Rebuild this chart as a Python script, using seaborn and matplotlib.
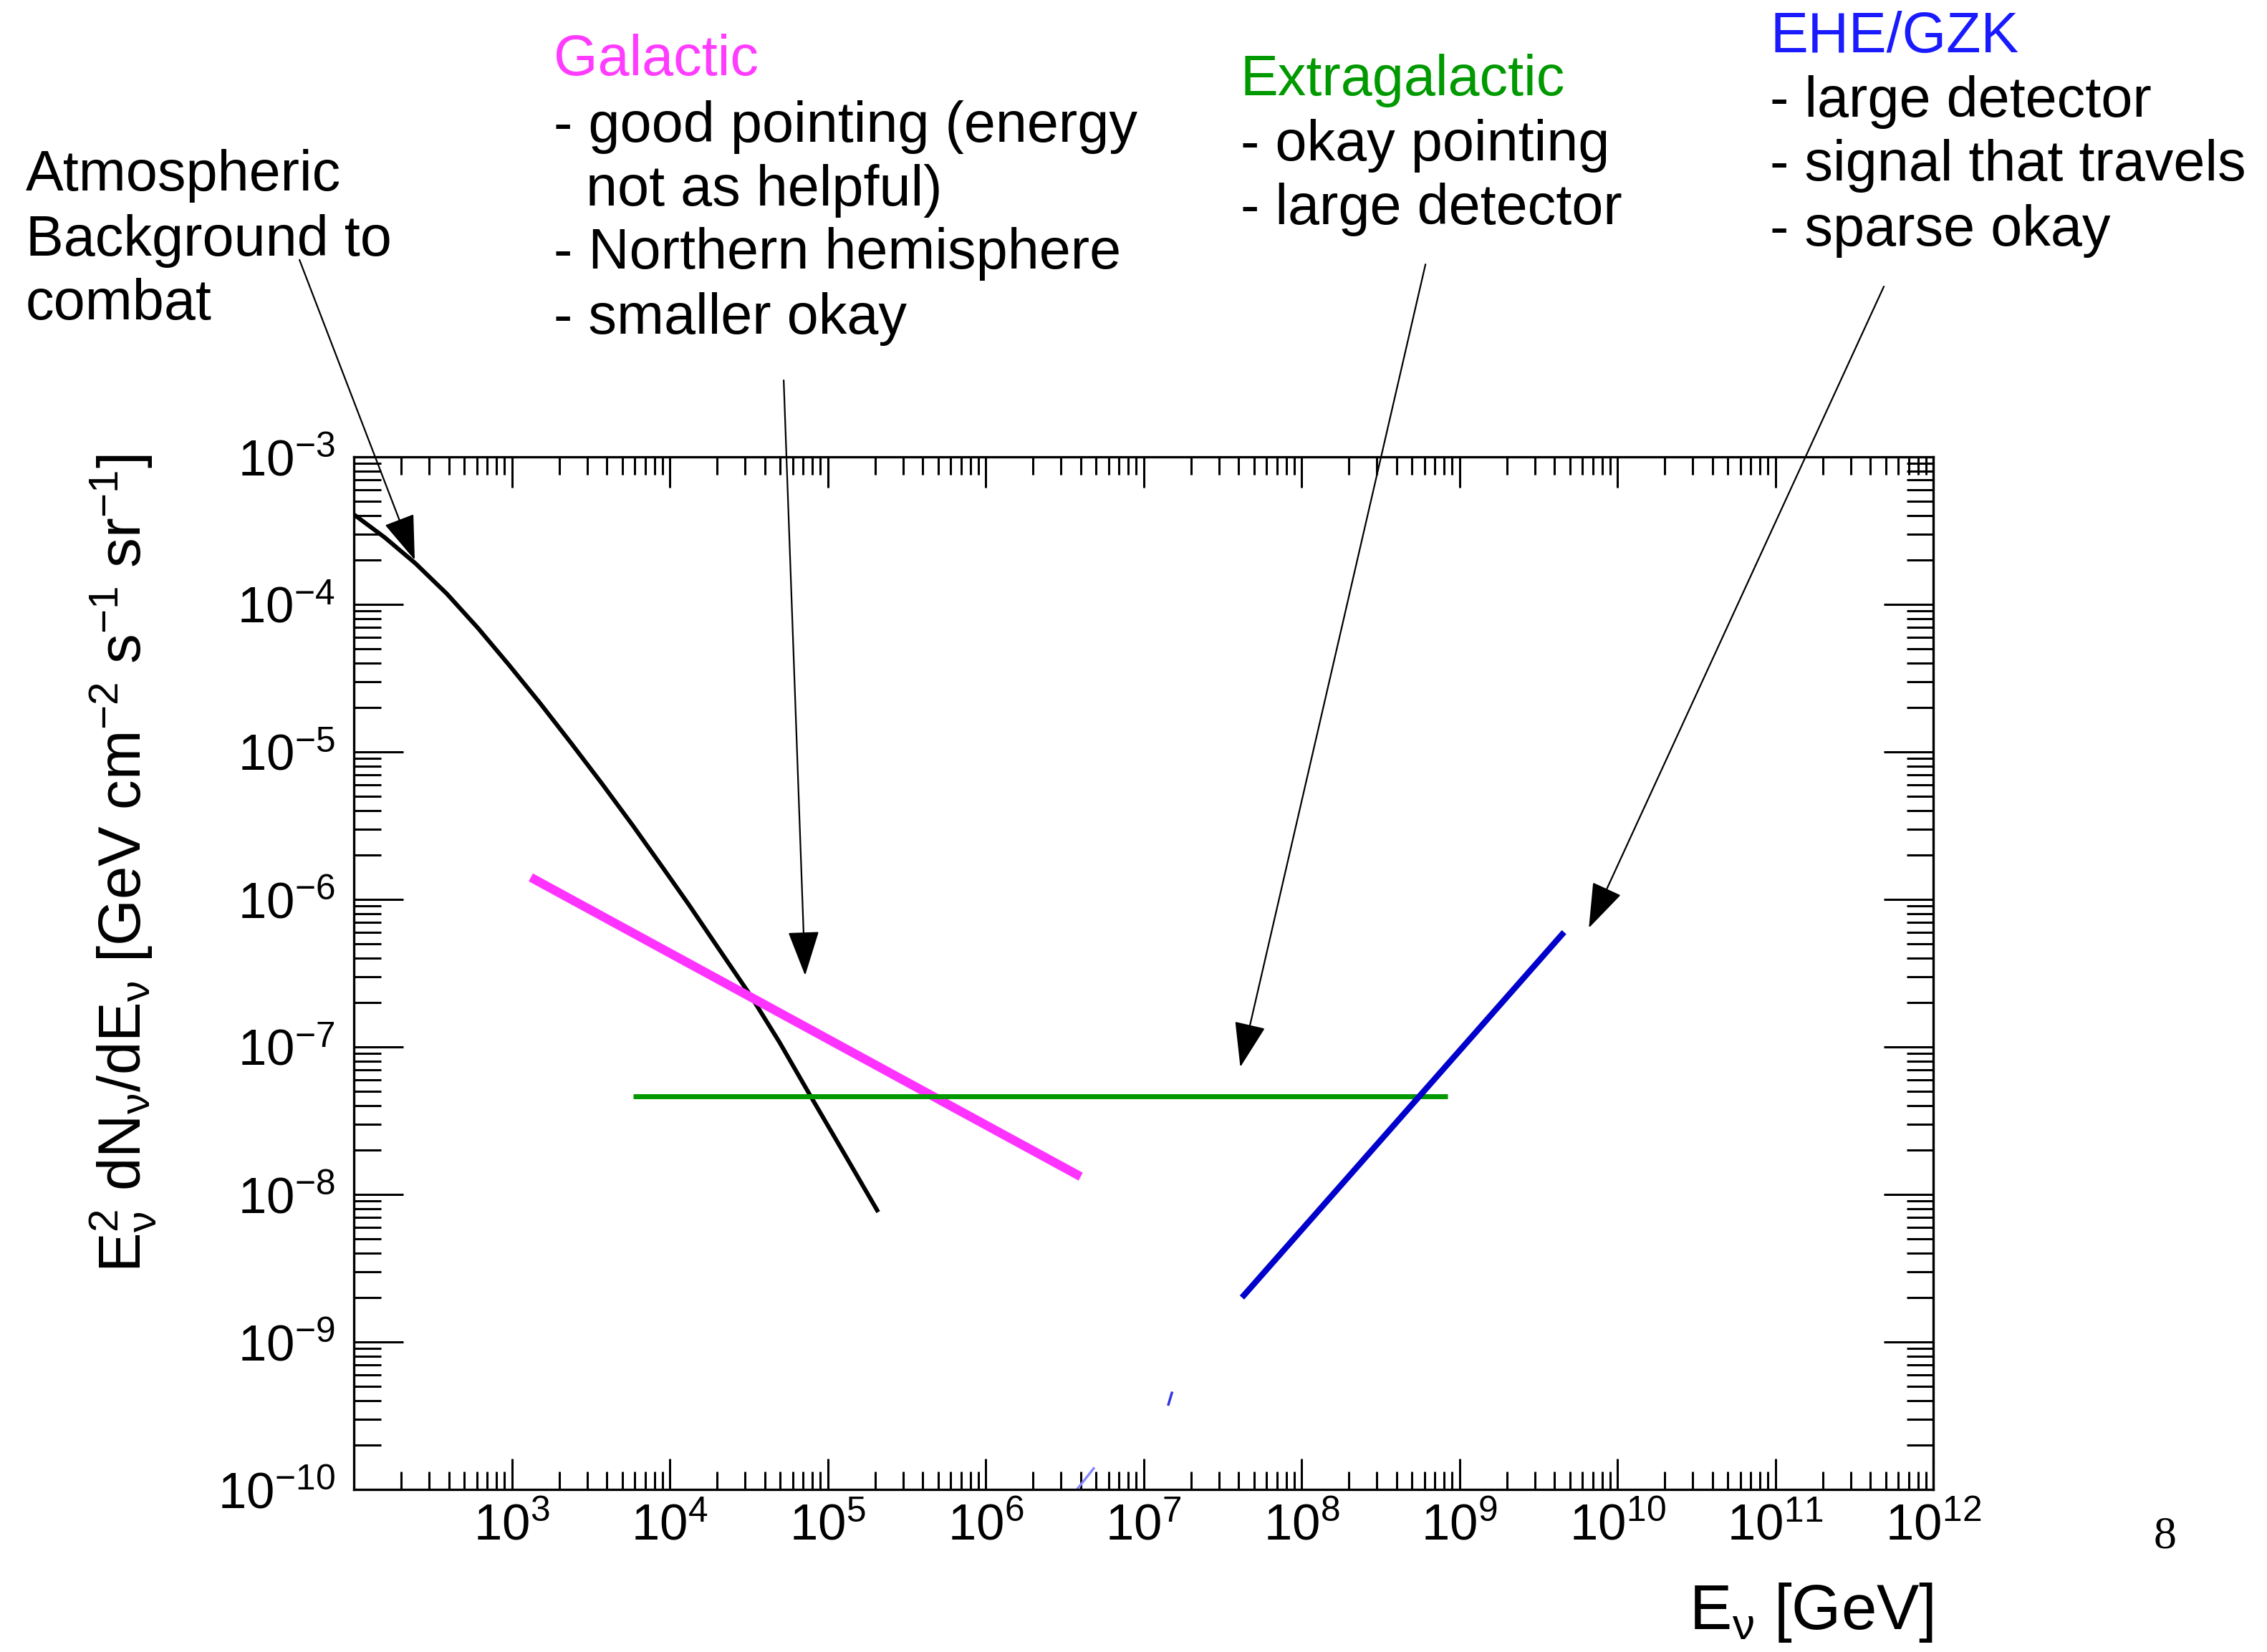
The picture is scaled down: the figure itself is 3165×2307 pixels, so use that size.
import numpy as np
import pandas as pd
import matplotlib
matplotlib.use("Agg")
import matplotlib.pyplot as plt
import seaborn as sns
from matplotlib.ticker import FixedLocator, FixedFormatter, LogLocator, NullFormatter

# ---------------- data ----------------
atm_energy = [1.0e2, 1.57e2, 2.45e2, 3.88e2, 6.1e2, 9.59e2, 1.51e3, 2.37e3, 3.72e3,
              5.85e3, 9.12e3, 1.32e4, 1.9e4, 3.24e4, 4.97e4, 7.76e4, 1.30e5, 2.09e5]
atm_flux = [4.07e-4, 2.84e-4, 1.9e-4, 1.18e-4, 6.92e-5, 3.89e-5, 2.14e-5, 1.15e-5, 6.1e-6,
            3.16e-6, 1.62e-6, 9.23e-7, 5.19e-7, 2.24e-7, 1.07e-7, 4.68e-8, 1.82e-8, 7.59e-9]

gal_energy = [1.32e3, 4.0e6]
gal_flux = [1.41e-6, 1.32e-8]

exgal_energy = [5.9e3, 8.4e8]
exgal_flux = [4.6e-8, 4.6e-8]

ehe_energy = [4.2e7, 4.6e9]
ehe_flux = [2.0e-9, 6.0e-7]

# small leftover fragments visible in the reference
frag1_energy = [1.43e7, 1.52e7]
frag1_flux = [3.7e-10, 4.6e-10]
frag2_energy = [3.79e6, 4.89e6]
frag2_flux = [1.0e-10, 1.41e-10]

x_tick_values = [1e3, 1e4, 1e5, 1e6, 1e7, 1e8, 1e9, 1e10, 1e11, 1e12]
x_tick_labels = [r"$\mathregular{10^{%d}}$" % e for e in range(3, 13)]
y_tick_values = [1e-10, 1e-9, 1e-8, 1e-7, 1e-6, 1e-5, 1e-4, 1e-3]
y_tick_labels = [r"$\mathregular{10^{-%d}}$" % e for e in range(10, 2, -1)]

# arrow tips (data coords) -> arrow tails (figure fraction)
arrow_tips = [(243, 2.0e-4), (7.2e4, 3.05e-7), (4.1e7, 7.3e-8), (6.6e9, 6.4e-7)]
arrow_tails = [(0.1321, 0.8427), (0.3457, 0.7698), (0.6288, 0.8400), (0.8310, 0.8266)]

# ---------------- style ----------------
sns.set_theme(style="ticks")
plt.rcParams["font.family"] = ["Liberation Sans", "DejaVu Sans"]
plt.rcParams["mathtext.fontset"] = "custom"
plt.rcParams["mathtext.rm"] = "Liberation Sans"
plt.rcParams["mathtext.it"] = "Liberation Sans:italic"
plt.rcParams["mathtext.bf"] = "Liberation Sans:bold"

W, H = 3165, 2307
fig = plt.figure(figsize=(W / 100, H / 100), dpi=100)
fig.patch.set_facecolor("white")
ax = fig.add_axes([494 / W, 1 - 2080 / H, (2699 - 494) / W, (2080 - 638) / H])
ax.set_facecolor("white")
ax.set_xscale("log")
ax.set_yscale("log")

series = [
    (atm_energy, atm_flux, "black", 4.3),
    (gal_energy, gal_flux, "#FF33FF", 9.0),
    (exgal_energy, exgal_flux, "#009900", 5.0),
    (ehe_energy, ehe_flux, "#0000CC", 6.0),
    (frag1_energy, frag1_flux, "#3333DD", 2.5),
    (frag2_energy, frag2_flux, "#8888FF", 2.5),
]
for xs, ys, col, lw in series:
    df = pd.DataFrame({"E": xs, "F": ys})
    sns.lineplot(data=df, x="E", y="F", ax=ax, color=col, linewidth=lw,
                 sort=False, estimator=None, solid_capstyle="butt",
                 solid_joinstyle="round")

ax.set_xlim(1e2, 1e12)
ax.set_ylim(1e-10, 1e-3)

ax.xaxis.set_major_locator(FixedLocator(x_tick_values))
ax.xaxis.set_major_formatter(FixedFormatter(x_tick_labels))
ax.xaxis.set_minor_locator(LogLocator(base=10, subs=np.arange(2, 10), numticks=100))
ax.xaxis.set_minor_formatter(NullFormatter())
ax.yaxis.set_major_locator(FixedLocator(y_tick_values))
ax.yaxis.set_major_formatter(FixedFormatter(y_tick_labels))
ax.yaxis.set_minor_locator(LogLocator(base=10, subs=np.arange(2, 10), numticks=100))
ax.yaxis.set_minor_formatter(NullFormatter())

ax.tick_params(which="both", direction="in", top=True, right=True, color="black",
               width=2.2, labelsize=51, labelcolor="black")
ax.tick_params(axis="x", which="major", length=31, pad=14)
ax.tick_params(axis="x", which="minor", length=18)
ax.tick_params(axis="y", which="major", length=50, pad=19)
ax.tick_params(axis="y", which="minor", length=27)
for s in ax.spines.values():
    s.set_visible(True)
    s.set_color("black")
    s.set_linewidth(2.4)
ax.grid(False)

ax.set_xlabel(r"$\mathregular{E_{ν}\ [GeV]}$", fontsize=64, color="black")
ax.xaxis.label.set(ha="right", va="center")
ax.xaxis.set_label_coords(1.0, -0.119)
ax.set_ylabel(r"$\mathregular{E_{ν}^{2}\ dN_{ν}/dE_{ν}\ [GeV\ cm^{-2}\ s^{-1}\ sr^{-1}]}$",
              fontsize=60, color="black")
ax.yaxis.label.set(rotation_mode="default", ha="center", va="top")
ax.yaxis.set_label_coords((172 - 494) / 2205, 1.003)

# ---------------- annotation arrows ----------------
for tip, tail in zip(arrow_tips, arrow_tails):
    ax.annotate("", xy=tip, xycoords="data", xytext=tail, textcoords="figure fraction",
                annotation_clip=False,
                arrowprops=dict(arrowstyle="-|>,head_length=0.4,head_width=0.14",
                                mutation_scale=100, lw=1.6, color="black",
                                shrinkA=0, shrinkB=0))

# ---------------- annotation text ----------------
FS = 57
def put(txt, x, y, color="black"):
    fig.text(x / W, 1 - y / H, txt, fontsize=FS, color=color, ha="left", va="baseline")

for t, y in zip(["Atmospheric", "Background to", "combat"], [266, 357, 446]):
    put(t, 36, y)

put("Galactic", 773, 105, "#FF3CFF")
put("- good pointing (energy", 773, 198)
put("not as helpful)", 818, 287)
put("- Northern hemisphere", 773, 375)
put("- smaller okay", 773, 466)

put("Extragalactic", 1732, 133, "#009900")
put("- okay pointing", 1732, 224)
put("- large detector", 1732, 313)

put("EHE/GZK", 2471, 73, "#1A1AFF")
put("- large detector", 2471, 163)
put("- signal that travels", 2471, 252)
put("- sparse okay", 2471, 343)

fig.text(3023 / W, 1 - 2147 / H, "8", fontsize=46, color="black", ha="center", va="center",
         family=["Liberation Serif", "DejaVu Serif"])

fig.savefig("out.png", dpi=100, facecolor="white")
